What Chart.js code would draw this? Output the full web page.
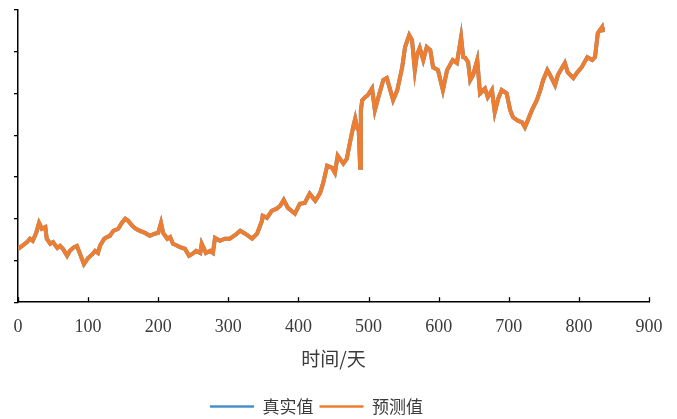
<!DOCTYPE html>
<html>
<head>
<meta charset="utf-8">
<script src="https://cdn.jsdelivr.net/npm/chart.js@4.4.1/dist/chart.umd.min.js"></script>
<style>
  html, body { margin: 0; padding: 0; background: #ffffff; }
  #wrap { width: 677px; height: 419px; }
</style>
</head>
<body>
<div id="wrap"><canvas id="c" width="677" height="419"></canvas></div>
<script>
// Day index of each sample
const days = [
  0, 6, 13, 17, 21, 26, 30, 34, 39, 41, 46, 50, 56, 60, 64, 70, 74, 80, 84, 88,
  94, 100, 106, 110, 114, 117, 123, 127, 131, 136, 143, 148, 153, 157, 163, 168, 174, 181, 188, 195,
  200, 204, 207, 213, 217, 221, 225, 231, 238, 244, 248, 254, 260, 262, 268, 274, 278, 281, 288, 295,
  302, 310, 317, 324, 334, 341, 348, 349, 355, 362, 369, 374, 379, 385, 395, 402, 409, 416, 424, 431,
  435, 441, 448, 452, 456, 464, 469, 474, 478, 481, 484, 486, 488, 489, 491, 495, 499, 505, 509, 514,
  521, 526, 531, 535, 541, 548, 552, 558, 562, 566, 569, 573, 578, 583, 588, 592, 599, 606, 612, 620,
  626, 632, 635, 638, 642, 645, 649, 655, 659, 666, 670, 676, 680, 685, 690, 697, 702, 706, 713, 719,
  723, 727, 733, 740, 745, 749, 755, 759, 766, 770, 780, 784, 792, 797, 804, 812, 819, 823, 827, 833,
  834
];

// Observed values (真实值)
const actualValues = [
  12.8, 13.5, 14.4, 15.2, 14.7, 16.6, 19.0, 17.6, 18.0, 15.2, 14.0, 14.4, 13.0, 13.5, 12.8, 11.1, 12.3, 13.2, 13.5, 11.8,
  9.1, 10.6, 11.5, 12.3, 11.8, 13.5, 15.2, 15.6, 15.9, 17.1, 17.6, 19.0, 20.0, 19.5, 18.3, 17.6, 17.1, 16.6, 15.9, 16.4,
  16.6, 19.0, 16.6, 15.2, 15.6, 14.0, 13.7, 13.2, 12.8, 11.1, 11.5, 12.3, 11.8, 14.0, 11.8, 12.3, 11.8, 15.4, 14.7, 15.2,
  15.2, 16.1, 17.1, 16.4, 15.2, 16.4, 19.5, 20.7, 20.2, 21.9, 22.4, 23.1, 24.5, 22.6, 21.2, 23.6, 23.8, 26.0, 24.3, 26.2,
  28.4, 32.7, 32.2, 31.0, 35.1, 33.2, 34.4, 38.7, 41.9, 44.0, 41.6, 41.1, 32.2, 46.0, 48.4, 49.1, 49.6, 51.2, 46.0, 49.1,
  53.2, 53.7, 50.8, 48.4, 50.8, 56.3, 61.1, 64.0, 62.8, 55.6, 59.2, 60.9, 58.0, 61.1, 60.4, 56.3, 55.6, 50.8, 55.6, 58.0,
  57.3, 63.5, 58.7, 58.5, 57.5, 53.2, 54.4, 58.0, 50.0, 51.2, 49.1, 50.8, 45.5, 48.8, 50.8, 50.0, 46.0, 44.3, 43.5, 43.1,
  41.9, 43.5, 46.0, 48.4, 50.8, 53.2, 55.6, 54.4, 52.0, 54.4, 57.3, 55.1, 53.7, 54.9, 56.3, 58.7, 58.0, 58.7, 64.5, 65.9,
  64.7
];

// Model output (预测值)
const predictedValues = [
  12.8, 13.5, 14.4, 15.2, 14.7, 16.6, 19.0, 17.6, 18.0, 15.2, 14.0, 14.4, 13.0, 13.5, 12.8, 11.1, 12.3, 13.2, 13.5, 11.8,
  9.1, 10.6, 11.5, 12.3, 11.8, 13.5, 15.2, 15.6, 15.9, 17.1, 17.6, 19.0, 20.0, 19.5, 18.3, 17.6, 17.1, 16.6, 15.9, 16.4,
  16.6, 19.0, 16.6, 15.2, 15.6, 14.0, 13.7, 13.2, 12.8, 11.1, 11.5, 12.3, 11.8, 14.0, 11.8, 12.3, 11.8, 15.4, 14.7, 15.2,
  15.2, 16.1, 17.1, 16.4, 15.2, 16.4, 19.5, 20.7, 20.2, 21.9, 22.4, 23.1, 24.5, 22.6, 21.2, 23.6, 23.8, 26.0, 24.3, 26.2,
  28.4, 32.7, 32.2, 31.0, 35.1, 33.2, 34.4, 38.7, 41.9, 44.0, 41.6, 41.1, 32.2, 46.0, 48.4, 49.1, 49.6, 51.2, 46.0, 49.1,
  53.2, 53.7, 50.8, 48.4, 50.8, 56.3, 61.1, 64.0, 62.8, 55.6, 59.2, 60.9, 58.0, 61.1, 60.4, 56.3, 55.6, 50.8, 55.6, 58.0,
  57.3, 63.5, 58.7, 58.5, 57.5, 53.2, 54.4, 58.0, 50.0, 51.2, 49.1, 50.8, 45.5, 48.8, 50.8, 50.0, 46.0, 44.3, 43.5, 43.1,
  41.9, 43.5, 46.0, 48.4, 50.8, 53.2, 55.6, 54.4, 52.0, 54.4, 57.3, 55.1, 53.7, 54.9, 56.3, 58.7, 58.0, 58.7, 64.5, 65.9,
  64.7
];

const seriesNames = ['真实值', '预测值'];
const xTitle = '时间/天';

const toPoints = (vals) => vals.map((v, i) => ({ x: days[i], y: v }));

const serifFont = "'Liberation Serif', 'Noto Sans CJK SC', serif";
const cjkFont = "'Noto Sans CJK SC', serif";
const textColor = '#3a3a3a';

// Short tick marks pointing up from the bottom axis
const innerXTicks = {
  id: 'innerXTicks',
  afterDatasetsDraw(chart) {
    const sx = chart.scales.x;
    const { ctx } = chart;
    const base = sx.top;
    ctx.save();
    ctx.strokeStyle = '#000';
    ctx.lineWidth = 1.3;
    sx.ticks.forEach(t => {
      const px = Math.round(sx.getPixelForValue(t.value)) + 0.5;
      ctx.beginPath();
      ctx.moveTo(px, base);
      ctx.lineTo(px, base - 5);
      ctx.stroke();
    });
    ctx.restore();
  }
};

// Nudge the legend row a little to the left of the canvas centre
const legendOffset = {
  id: 'legendOffset',
  afterLayout(chart) {
    const lg = chart.legend;
    if (!lg) return;
    lg.left -= 15;
    lg.right -= 15;
  }
};

const defaultLabels = Chart.defaults.plugins.legend.labels.generateLabels;

new Chart(document.getElementById('c'), {
  type: 'line',
  data: {
    datasets: [
      {
        label: seriesNames[0],
        data: toPoints(actualValues),
        borderColor: '#4a90c8',
        backgroundColor: '#4a90c8',
        borderWidth: 4,
        pointRadius: 0,
        tension: 0,
        order: 2
      },
      {
        label: seriesNames[1],
        data: toPoints(predictedValues),
        borderColor: '#ed7d31',
        backgroundColor: '#ed7d31',
        borderWidth: 4,
        pointRadius: 0,
        tension: 0,
        order: 1
      }
    ]
  },
  options: {
    responsive: false,
    animation: false,
    layout: { padding: { left: 14, right: 28, top: 10, bottom: -6 } },
    plugins: {
      tooltip: { enabled: false },
      legend: {
        position: 'bottom',
        labels: {
          usePointStyle: true,
          pointStyle: 'line',
          pointStyleWidth: 44,
          boxHeight: 3,
          padding: 6,
          color: textColor,
          font: { family: cjkFont, size: 17 },
          sort: (a, b) => a.datasetIndex - b.datasetIndex,
          generateLabels: (chart) => defaultLabels(chart).map(l => Object.assign(l, { lineWidth: 2.5 }))
        }
      }
    },
    scales: {
      x: {
        type: 'linear',
        min: 0,
        max: 900,
        ticks: {
          stepSize: 100,
          padding: 2,
          color: textColor,
          font: { family: serifFont, size: 18, lineHeight: '46px' }
        },
        grid: { drawOnChartArea: false, drawTicks: false },
        border: { color: '#000', width: 1.5 },
        title: {
          display: true,
          text: xTitle,
          color: textColor,
          font: { family: cjkFont, size: 19 },
          padding: { top: -5, bottom: 22 }
        }
      },
      y: {
        min: 0,
        max: 70,
        ticks: { stepSize: 10, display: false },
        grid: { drawOnChartArea: false, drawTicks: true, tickLength: 4, color: '#000', lineWidth: 1.3 },
        border: { color: '#000', width: 1.5 }
      }
    }
  },
  plugins: [innerXTicks, legendOffset]
});
</script>
</body>
</html>
